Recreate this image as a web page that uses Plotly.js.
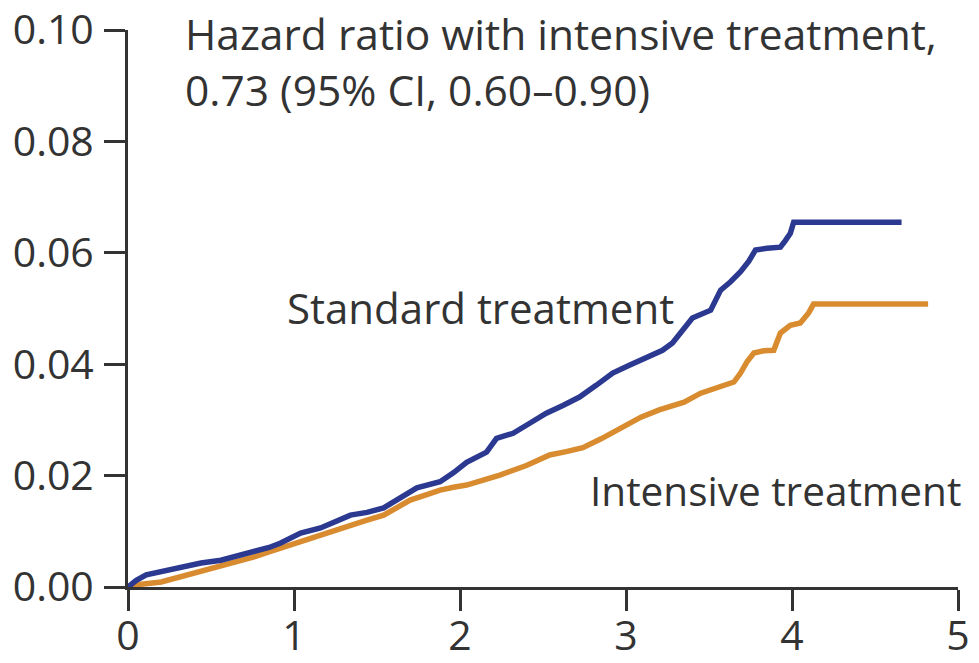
<!DOCTYPE html>
<html>
<head>
<meta charset="utf-8">
<script src="https://cdn.plot.ly/plotly-3.0.1.min.js"></script>
<style>html,body{margin:0;padding:0;background:#fff;}#chart{width:979px;height:663px;}</style>
</head>
<body>
<div id="chart"></div>
<script>
// Years since randomization
const standardX = [0, 0.05, 0.11, 0.2, 0.3, 0.44, 0.56, 0.66, 0.76, 0.85, 0.92, 1.04, 1.16, 1.25, 1.34, 1.44, 1.54, 1.64, 1.74, 1.88, 1.96, 2.04, 2.16, 2.22, 2.32, 2.42, 2.52, 2.62, 2.72, 2.82, 2.92, 3.02, 3.13, 3.22, 3.28, 3.4, 3.51, 3.57, 3.63, 3.69, 3.74, 3.78, 3.85, 3.93, 3.96, 3.99, 4.01, 4.66];
const standardY = [0, 0.0012, 0.0022, 0.0028, 0.0036, 0.0043, 0.0048, 0.0056, 0.0063, 0.0071, 0.0079, 0.0097, 0.0106, 0.0118, 0.0129, 0.0134, 0.0142, 0.016, 0.0178, 0.0189, 0.0205, 0.0224, 0.0242, 0.0267, 0.0276, 0.0294, 0.0312, 0.0326, 0.0341, 0.0362, 0.0384, 0.0398, 0.0413, 0.0425, 0.0438, 0.0483, 0.0497, 0.0533, 0.0548, 0.0566, 0.0585, 0.0605, 0.0608, 0.061, 0.0622, 0.0635, 0.0655, 0.0655];
const intensiveX = [0, 0.08, 0.2, 0.36, 0.46, 0.56, 0.66, 0.76, 0.84, 0.92, 1.04, 1.16, 1.25, 1.34, 1.44, 1.54, 1.62, 1.7, 1.8, 1.88, 1.96, 2.04, 2.14, 2.24, 2.4, 2.54, 2.64, 2.74, 2.85, 2.95, 3.09, 3.2, 3.35, 3.45, 3.55, 3.65, 3.69, 3.73, 3.77, 3.83, 3.89, 3.93, 3.99, 4.05, 4.1, 4.13, 4.82];
const intensiveY = [0, 0.0005, 0.0009, 0.0022, 0.0029, 0.0036, 0.0045, 0.0054, 0.0062, 0.007, 0.0082, 0.0093, 0.0102, 0.0111, 0.012, 0.0129, 0.0142, 0.0156, 0.0166, 0.0174, 0.0179, 0.0183, 0.0192, 0.0201, 0.0218, 0.0237, 0.0243, 0.025, 0.0266, 0.0282, 0.0305, 0.0318, 0.0332, 0.0348, 0.0358, 0.0368, 0.0384, 0.0405, 0.042, 0.0424, 0.0425, 0.0456, 0.047, 0.0474, 0.0492, 0.0508, 0.0508];
const yTickVals = [0, 0.02, 0.04, 0.06, 0.08, 0.10];
const yTickText = ["0.00", "0.02", "0.04", "0.06", "0.08", "0.10"];
const xTickVals = [0, 1, 2, 3, 4, 5];
const xTickText = ["0", "1", "2", "3", "4", "5"];

const FONT = '"Open Sans", Lato, sans-serif';
const TXT = '#333333';

const traces = [
  {x: intensiveX, y: intensiveY, type: 'scatter', mode: 'lines', name: 'Intensive treatment',
   line: {color: '#d98b2f', width: 5.5, shape: 'linear'}},
  {x: standardX, y: standardY, type: 'scatter', mode: 'lines', name: 'Standard treatment',
   line: {color: '#2b3990', width: 5.5, shape: 'linear'}}
];

const layout = {
  width: 979, height: 663,
  margin: {l: 128, r: 21, t: 30, b: 76},
  paper_bgcolor: '#ffffff', plot_bgcolor: '#ffffff',
  showlegend: false,
  font: {family: FONT, color: TXT, size: 41},
  xaxis: {range: [0, 5], tickvals: xTickVals, ticktext: xTickText, showgrid: false, zeroline: false,
          showline: true, linecolor: '#333', linewidth: 3, ticks: 'outside', ticklen: 21, tickwidth: 3,
          tickcolor: '#333', ticklabelstandoff: -10, tickfont: {family: FONT, size: 41, color: TXT}},
  yaxis: {range: [0, 0.1], tickvals: yTickVals, ticktext: yTickText, showgrid: false, zeroline: false,
          showline: true, linecolor: '#333', linewidth: 3, ticks: 'outside', ticklen: 21, tickwidth: 3,
          tickcolor: '#333', ticklabelstandoff: 2, tickfont: {family: FONT, size: 41, color: TXT}},
  annotations: [
    {x: 0.333, y: 0.0993, xref: 'x', yref: 'y', text: 'Hazard ratio with intensive treatment,', showarrow: false, xanchor: 'left', yanchor: 'middle', font: {family: FONT, size: 42.5, color: TXT}},
    {x: 0.333, y: 0.0894, xref: 'x', yref: 'y', text: '0.73 (95% CI, 0.60–0.90)', showarrow: false, xanchor: 'left', yanchor: 'middle', font: {family: FONT, size: 42.5, color: TXT}},
    {x: 0.948, y: 0.0501, xref: 'x', yref: 'y', text: 'Standard treatment', showarrow: false, xanchor: 'left', yanchor: 'middle', font: {family: FONT, size: 42, color: TXT}},
    {x: 2.773, y: 0.0174, xref: 'x', yref: 'y', text: 'Intensive treatment', showarrow: false, xanchor: 'left', yanchor: 'middle', font: {family: FONT, size: 40.5, color: TXT}}
  ]
};

Plotly.newPlot('chart', traces, layout, {displayModeBar: false, staticPlot: true});
</script>
</body>
</html>
